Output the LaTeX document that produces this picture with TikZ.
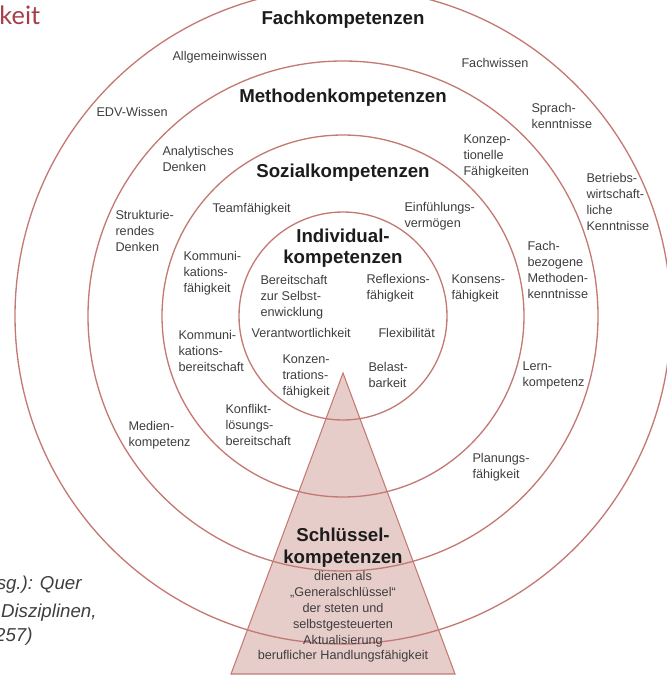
\documentclass[tikz,border=0pt]{standalone}
\usepackage{fontspec}
\setmainfont{Liberation Sans}
\newfontfamily\titlefont{Lato}

\definecolor{ringred}{RGB}{196,122,116}
\definecolor{keyfill}{RGB}{231,205,201}
\definecolor{txtgray}{RGB}{62,62,62}
\definecolor{headblack}{RGB}{28,28,28}
\definecolor{titlered}{RGB}{164,62,72}

\tikzset{every picture/.style={line width=0.75pt}}
\tikzset{
  ring/.style={draw=ringred, line width=1pt},
  lbl/.style={anchor=west, inner sep=0pt, align=left, text=txtgray,
    font=\fontsize{9.5}{12}\selectfont},
  head/.style={inner sep=0pt, align=center, text=headblack,
    font=\fontsize{14}{15.5}\bfseries\selectfont},
  keytext/.style={inner sep=0pt, align=center, text=txtgray,
    font=\fontsize{9.5}{11.9}\selectfont},
  cite/.style={anchor=east, inner sep=0pt, text=txtgray,
    font=\fontsize{14}{18}\itshape\selectfont}
}

\begin{document}
\begin{tikzpicture}[x=0.75pt,y=0.75pt,yscale=-1,xscale=1]
\useasboundingbox (0,0) rectangle (667,675);

%Shape: Triangle [id:key]
\draw [draw=ringred, fill=keyfill, line width=0.8pt] (343,373) -- (455,674) -- (231,674) -- cycle ;

%Shape: Circle [id:individual]
\draw [ring] (343,316) circle [radius=104] ;
%Shape: Circle [id:sozial]
\draw [ring] (343,316) circle [radius=181] ;
%Shape: Circle [id:methoden]
\draw [ring] (343,316) circle [radius=255] ;
%Shape: Circle [id:fach]
\draw [ring] (343,316) circle [radius=328] ;

% Text Node
\draw (-1,15) node (title) [anchor=west][inner sep=0pt] [text=titlered, font=\titlefont\fontsize{19}{20}\selectfont] {keit};
% Text Node
\draw (82,585) node (cita) [cite] {sg.): Quer};
% Text Node
\draw (97,613) node (citb) [cite] {Disziplinen,};
% Text Node
\draw (33,637) node (citc) [cite] {257)};

% Headings
\draw (343,20) node (fachk) [head] {Fachkompetenzen};
\draw (343,98) node (methk) [head] {Methodenkompetenzen};
\draw (343,173) node (sozk) [head] {Sozialkompetenzen};
\draw (343,248) node (indk) [head] {Individual-\\kompetenzen};
\draw (343,548) node (schk) [head, font=\fontsize{14}{16.5}\bfseries\selectfont] {Schlüssel-\\kompetenzen};
\draw (343,617) node (schtxt) [keytext] {dienen als\\„Generalschlüssel“\\der steten und\\selbstgesteuerten\\Aktualisierung\\beruflicher Handlungsfähigkeit};

% Fachkompetenzen
\draw (172,57) node (allg) [lbl] {Allgemeinwissen};
\draw (96,112) node (edv) [lbl] {EDV-Wissen};
\draw (461,63) node (fachw) [lbl] {Fachwissen};
\draw (531,116) node (sprach) [lbl] {Sprach-\\kenntnisse};
\draw (586,202) node (betrieb) [lbl] {Betriebs-\\wirtschaft-\\liche\\Kenntnisse};
\draw (128,435) node (medien) [lbl] {Medien-\\kompetenz};
\draw (522,375) node (lern) [lbl] {Lern-\\kompetenz};

% Methodenkompetenzen
\draw (162,159) node (analyt) [lbl] {Analytisches\\Denken};
\draw (115,231) node (strukt) [lbl] {Strukturie-\\rendes\\Denken};
\draw (463,156) node (konzept) [lbl] {Konzep-\\tionelle\\Fähigkeiten};
\draw (527,270) node (fachbez) [lbl] {Fach-\\bezogene\\Methoden-\\kenntnisse};
\draw (472,467) node (planung) [lbl] {Planungs-\\fähigkeit};

% Sozialkompetenzen
\draw (212,209) node (team) [lbl] {Teamfähigkeit};
\draw (404,216) node (einf) [lbl] {Einfühlungs-\\vermögen};
\draw (183,273) node (kommf) [lbl] {Kommuni-\\kations-\\fähigkeit};
\draw (451,288) node (konsens) [lbl] {Konsens-\\fähigkeit};
\draw (178,351) node (kommb) [lbl] {Kommuni-\\kations-\\bereitschaft};
\draw (225,425) node (konflikt) [lbl] {Konflikt-\\lösungs-\\bereitschaft};

% Individualkompetenzen
\draw (260,297) node (bereit) [lbl] {Bereitschaft\\zur Selbst-\\enwicklung};
\draw (366,288) node (reflex) [lbl] {Reflexions-\\fähigkeit};
\draw (251,333) node (verant) [lbl] {Verantwortlichkeit};
\draw (378,333) node (flex) [lbl] {Flexibilität};
\draw (282,376) node (konzen) [lbl] {Konzen-\\trations-\\fähigkeit};
\draw (368,375) node (belast) [lbl] {Belast-\\barkeit};

\end{tikzpicture}
\end{document}
